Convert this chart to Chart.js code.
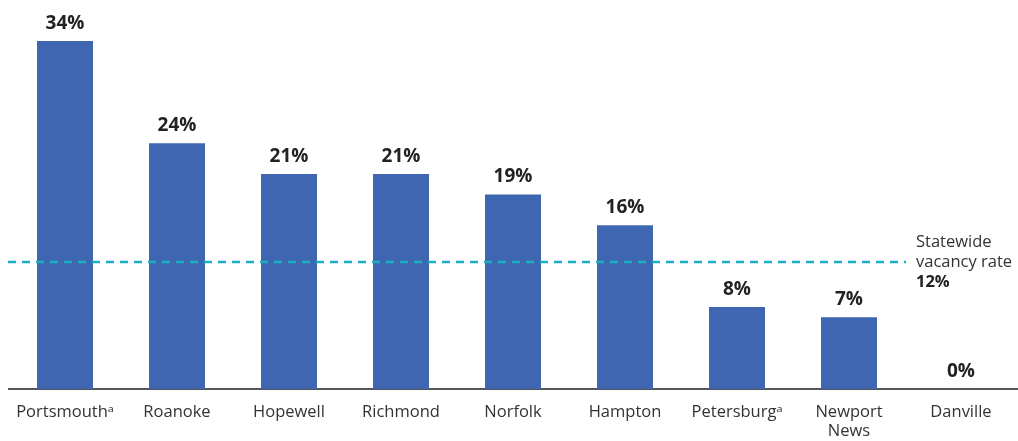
<!DOCTYPE html>
<html>
<head>
<meta charset="utf-8">
<script src="https://cdn.jsdelivr.net/npm/chart.js@4"></script>
<style>
  html, body { margin: 0; padding: 0; background: #fff; }
  #wrap { width: 1018px; height: 441px; }
</style>
</head>
<body>
<div id="wrap"><canvas id="chart1"></canvas></div>
<script>
const cities = ['Portsmouthᵃ', 'Roanoke', 'Hopewell', 'Richmond', 'Norfolk', 'Hampton', 'Petersburgᵃ', ['Newport', 'News'], 'Danville'];
const vacancy = [34, 24, 21, 21, 19, 16, 8, 7, 0];
const statewideRate = 12.4;
const statewideLabel = ['Statewide', 'vacancy rate', '12%'];

const fontFam = '"Open Sans", "Noto Sans", sans-serif';

// value labels above bars + statewide dashed line and note
const extras = {
  id: 'extras',
  afterDatasetsDraw(chart) {
    const c = chart.ctx;
    const meta = chart.getDatasetMeta(0);
    c.save();
    c.font = 'bold 19px ' + fontFam;
    c.fillStyle = '#222';
    c.textAlign = 'center';
    c.textBaseline = 'bottom';
    meta.data.forEach((bar, i) => {
      c.fillText(vacancy[i] + '%', bar.x, bar.y - 8);
    });

    const y = chart.scales.y.getPixelForValue(statewideRate);
    c.strokeStyle = '#1aafc4';
    c.lineWidth = 2.5;
    c.setLineDash([8, 6]);
    c.beginPath();
    c.moveTo(8, y);
    c.lineTo(906, y);
    c.stroke();
    c.setLineDash([]);

    c.textAlign = 'left';
    c.textBaseline = 'middle';
    c.fillStyle = '#333';
    c.font = '16.5px ' + fontFam;
    c.fillText(statewideLabel[0], 916, y - 20);
    c.fillText(statewideLabel[1], 916, y);
    c.font = 'bold 16.5px ' + fontFam;
    c.fillStyle = '#222';
    c.fillText(statewideLabel[2], 916, y + 20);
    c.restore();
  }
};

const ctx = document.getElementById('chart1').getContext('2d');
const chart1 = new Chart(ctx, {
  type: 'bar',
  data: {
    labels: cities,
    datasets: [{
      data: vacancy,
      backgroundColor: '#3f67b1',
      barPercentage: 0.5,
      categoryPercentage: 1
    }]
  },
  options: {
    responsive: true,
    maintainAspectRatio: false,
    animation: false,
    layout: { padding: { left: 9, right: 1, top: 0, bottom: 0 } },
    plugins: { legend: { display: false }, tooltip: { enabled: false } },
    scales: {
      x: {
        grid: { display: false, drawTicks: false },
        border: { color: '#555', width: 2 },
        ticks: {
          color: '#333',
          font: { family: fontFam, size: 16.5, lineHeight: 1.2 },
          padding: 13,
          maxRotation: 0,
          autoSkip: false
        },
        afterFit(scale) { scale.height = 52; }
      },
      y: {
        display: false,
        min: 0,
        max: 38
      }
    }
  },
  plugins: [extras]
});
</script>
</body>
</html>
